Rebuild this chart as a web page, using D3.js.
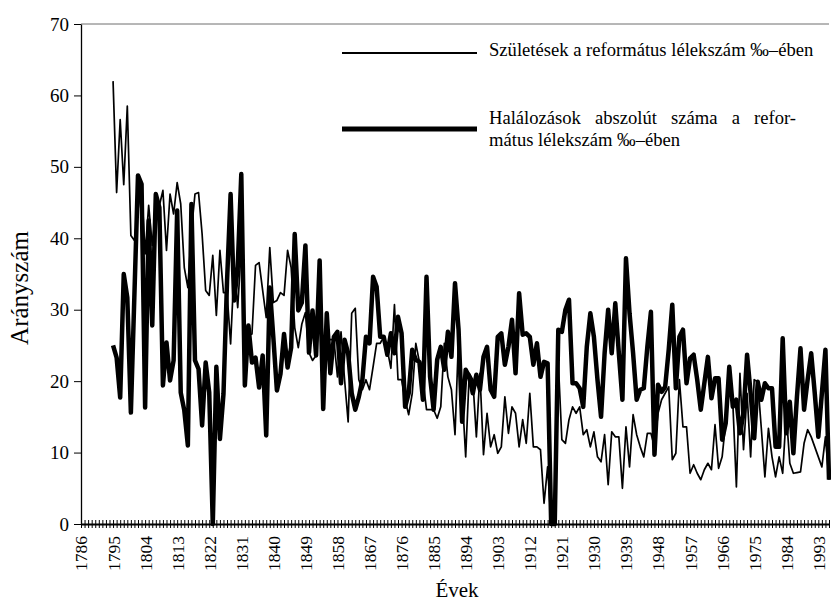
<!DOCTYPE html>
<html>
<head>
<meta charset="utf-8">
<title>Születések és halálozások</title>
<script src="https://cdnjs.cloudflare.com/ajax/libs/d3/7.8.5/d3.min.js"></script>
<style>
  body { margin: 0; background: #fff; }
  text { font-family: "Liberation Serif", "Times New Roman", serif; fill: #000; }
</style>
</head>
<body>
<script>
// categories: every year 1786-1996, data starts in 1795
const firstYear = 1795;
const lastYear = 1996;
const axisStartYear = 1786;
const xTickLabels = [1786, 1795, 1804, 1813, 1822, 1831, 1840, 1849, 1858, 1867, 1876, 1885,
  1894, 1903, 1912, 1921, 1930, 1939, 1948, 1957, 1966, 1975, 1984, 1993];
const yTickLabels = [0, 10, 20, 30, 40, 50, 60, 70];

// births per 1000 reformed souls, 1795-1996
const births = [
  62.0, 46.4, 56.6, 47.5, 58.5, 40.4, 39.7, 44.0, 47.4, 37.8,
  44.6, 39.0, 44.0, 44.6, 46.7, 38.3, 46.2, 43.4, 47.8, 44.8,
  35.9, 33.1, 41.0, 46.2, 46.4, 40.6, 32.7, 32.0, 37.6, 29.2,
  38.3, 32.4, 32.4, 25.2, 35.9, 30.3, 38.7, 23.3, 26.4, 26.6,
  36.2, 36.6, 32.7, 28.9, 38.7, 31.0, 31.3, 32.4, 32.0, 38.3,
  35.9, 27.5, 24.7, 28.0, 29.6, 24.0, 22.9, 23.6, 29.4, 23.3,
  26.1, 25.8, 25.8, 20.6, 26.9, 20.2, 14.3, 29.5, 30.2, 20.2,
  18.8, 20.2, 18.8, 22.0, 25.3, 25.3, 26.2, 24.4, 21.8, 30.7,
  20.2, 20.2, 17.4, 15.3, 18.3, 25.3, 22.7, 20.2, 16.0, 16.0,
  16.0, 14.8, 16.4, 25.3, 20.6, 18.8, 12.5, 26.2, 18.3, 9.4,
  21.1, 20.2, 12.2, 21.1, 9.7, 15.5, 10.8, 12.5, 9.9, 10.8,
  17.8, 12.7, 16.4, 15.5, 10.8, 14.6, 11.3, 18.3, 10.8, 10.8,
  10.4, 2.9, 8.0, 0, 0, 22.7, 11.8, 11.3, 14.6, 16.4,
  15.5, 16.4, 12.5, 13.2, 10.8, 12.9, 9.4, 8.7, 12.5, 5.5,
  12.9, 12.2, 12.2, 5.0, 13.6, 8.0, 15.3, 12.5, 10.8, 9.4,
  12.7, 12.7, 10.8, 15.5, 17.4, 18.3, 19.2, 9.0, 9.9, 20.2,
  13.6, 13.6, 7.1, 8.3, 7.1, 6.2, 7.6, 8.5, 7.6, 13.9,
  7.8, 9.4, 14.3, 19.2, 16.9, 5.2, 21.1, 10.4, 18.3, 9.4,
  20.2, 19.9, 13.4, 6.6, 13.4, 9.4, 6.6, 9.4, 7.1, 15.5,
  8.5, 7.1, 7.2, 7.3, 11.3, 13.2, 12.2, 10.8, 9.4, 8.0,
  12.2, 6.2
];

// deaths per 1000 reformed souls, 1795-1996
const deaths = [
  25.0, 23.3, 17.7, 35.0, 31.7, 15.6, 32.2, 48.8, 47.6, 16.3,
  42.5, 27.8, 46.2, 44.3, 19.4, 25.4, 20.1, 22.9, 43.9, 18.4,
  15.9, 11.0, 44.8, 22.9, 21.7, 13.8, 22.6, 18.4, 0, 22.0,
  11.9, 18.2, 34.0, 46.2, 31.3, 36.0, 49.0, 19.4, 27.8, 22.6,
  23.3, 19.1, 23.6, 12.4, 33.1, 26.1, 18.7, 21.0, 26.6, 21.9,
  24.7, 40.6, 29.9, 31.0, 39.0, 24.0, 29.9, 23.6, 36.9, 16.1,
  29.5, 21.1, 26.2, 26.9, 19.7, 25.8, 23.9, 18.3, 16.0, 17.8,
  20.2, 26.2, 25.3, 34.6, 33.2, 26.2, 26.2, 23.7, 26.7, 23.9,
  29.0, 26.7, 16.4, 18.3, 24.4, 23.0, 22.7, 17.4, 34.6, 20.6,
  16.0, 23.0, 24.8, 21.6, 26.9, 23.4, 33.7, 27.2, 14.3, 21.6,
  20.6, 18.3, 20.9, 18.8, 23.4, 24.8, 18.8, 17.8, 26.2, 26.7,
  22.3, 24.8, 28.6, 21.1, 32.3, 26.5, 26.7, 26.2, 22.3, 25.3,
  20.6, 22.7, 22.5, 0, 0, 27.2, 26.9, 30.0, 31.4, 19.7,
  19.7, 19.0, 16.4, 24.8, 29.5, 26.2, 20.2, 15.0, 23.9, 30.0,
  23.9, 30.9, 23.9, 17.4, 37.2, 29.5, 23.9, 17.4, 18.8, 19.0,
  24.8, 29.7, 9.7, 19.5, 18.5, 19.2, 24.4, 30.7, 19.0, 26.2,
  27.2, 19.7, 23.2, 23.7, 20.2, 16.0, 19.7, 23.4, 17.6, 20.4,
  20.4, 11.8, 14.1, 22.0, 16.4, 17.4, 12.7, 15.5, 23.7, 18.3,
  12.0, 19.9, 17.4, 19.7, 19.0, 19.0, 10.8, 10.8, 26.0, 12.7,
  17.1, 9.9, 17.8, 24.6, 16.0, 20.2, 23.9, 18.3, 12.2, 18.3,
  24.4, 6.2
];

const birthsLabel = "Születések a református lélekszám ‰–ében";
const deathsLabel = ["Halálozások abszolút száma a refor-", "mátus lélekszám ‰–ében"];

const width = 831, height = 601;
const plot = { left: 81, right: 829, top: 24, bottom: 524 };

const svg = d3.select("body")
  .append("svg")
  .attr("width", width)
  .attr("height", height);

const x = d3.scaleLinear()
  .domain([axisStartYear, lastYear])
  .range([plot.left, plot.right]);

const y = d3.scaleLinear()
  .domain([0, 70])
  .range([plot.bottom, plot.top]);

const categories = d3.range(axisStartYear, lastYear + 1);

// top border of the plot area
svg.append("line")
  .attr("x1", plot.left).attr("x2", plot.right)
  .attr("y1", y(70)).attr("y2", y(70))
  .attr("stroke", "#6e6e6e")
  .attr("stroke-width", 1);

// y axis
svg.append("g")
  .attr("transform", `translate(${plot.left},0)`)
  .call(d3.axisLeft(y).tickValues(yTickLabels).tickSize(7).tickSizeOuter(0).tickPadding(5))
  .call(g => g.attr("font-family", null).attr("font-size", null))
  .call(g => g.select(".domain").attr("stroke-width", 1.3))
  .call(g => g.selectAll("text").style("font-size", "19px"));

// series
const line = d3.line()
  .x(d => x(d.year))
  .y(d => y(d.value));

const toPoints = arr => arr.map((v, i) => ({ year: firstYear + i, value: v }));

svg.append("path")
  .datum(toPoints(births))
  .attr("fill", "none")
  .attr("stroke", "#000")
  .attr("stroke-width", 1.7)
  .attr("stroke-linejoin", "round")
  .attr("d", line);

svg.append("path")
  .datum(toPoints(deaths))
  .attr("fill", "none")
  .attr("stroke", "#000")
  .attr("stroke-width", 4.5)
  .attr("stroke-linejoin", "round")
  .attr("d", line);

// x axis (category ticks crossing the axis)
const xAxis = svg.append("g")
  .attr("transform", `translate(0,${plot.bottom})`)
  .call(d3.axisBottom(x)
    .tickValues(categories)
    .tickSize(4)
    .tickSizeOuter(0)
    .tickFormat(d => xTickLabels.includes(d) ? d : ""))
  .call(g => g.attr("font-family", null).attr("font-size", null));

xAxis.select(".domain").attr("stroke-width", 2.2);
xAxis.selectAll(".tick line").attr("y1", -4).attr("y2", 4);
xAxis.selectAll(".tick text")
  .style("font-size", "17.5px")
  .attr("text-anchor", "end")
  .attr("transform", "rotate(-90)")
  .attr("x", -12)
  .attr("y", 0)
  .attr("dy", "0.34em");

// axis titles
svg.append("text")
  .attr("transform", "translate(28,288) rotate(-90)")
  .attr("text-anchor", "middle")
  .style("font-size", "25px")
  .text("Arányszám");

svg.append("text")
  .attr("x", 457)
  .attr("y", 597)
  .attr("text-anchor", "middle")
  .style("font-size", "21px")
  .text("Évek");

// legend
const legend = svg.append("g");

legend.append("line")
  .attr("x1", 342).attr("x2", 477)
  .attr("y1", 53).attr("y2", 53)
  .attr("stroke", "#000").attr("stroke-width", 1.8);

legend.append("text")
  .attr("x", 489).attr("y", 56)
  .style("font-size", "18.6px")
  .text(birthsLabel);

legend.append("line")
  .attr("x1", 342).attr("x2", 477)
  .attr("y1", 129).attr("y2", 129)
  .attr("stroke", "#000").attr("stroke-width", 5);

const justified = legend.append("text")
  .attr("x", 489).attr("y", 124)
  .style("font-size", "18.6px")
  .text(deathsLabel[0]);

// spread the first line to a justified width
const natural = justified.node().getComputedTextLength();
const gaps = deathsLabel[0].split(" ").length - 1;
justified.attr("word-spacing", Math.max(0, (796 - 489 - natural) / gaps));

legend.append("text")
  .attr("x", 489).attr("y", 146)
  .style("font-size", "18.6px")
  .text(deathsLabel[1]);
</script>
</body>
</html>
